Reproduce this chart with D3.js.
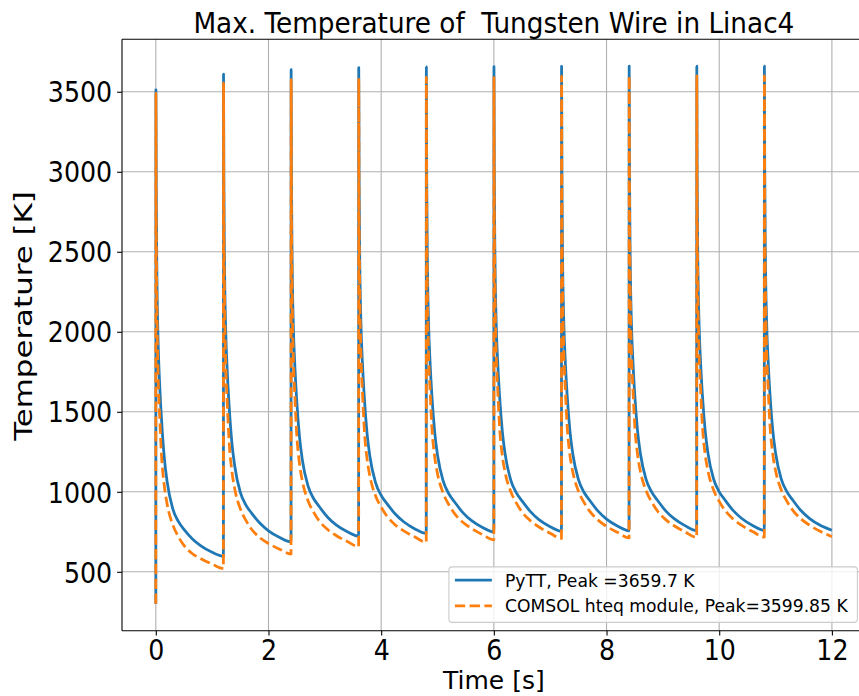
<!DOCTYPE html>
<html>
<head>
<meta charset="utf-8">
<script src="https://cdn.jsdelivr.net/npm/d3@7"></script>
<style>
  html, body { margin: 0; padding: 0; background: #ffffff; }
  svg { display: block; font-family: "DejaVu Sans", sans-serif; }
</style>
</head>
<body>
<svg id="chart" width="859" height="696"></svg>
<script>
// Pulse train: one beam pulse every 1.2 s, ten pulses over 12 s
const cycleStarts = [0, 1.2, 2.4, 3.6, 4.8, 6.0, 7.2, 8.4, 9.6, 10.8];
// time after each pulse start [s] at which the temperatures are sampled
const tAfterPulse = [0.002, 0.008, 0.02, 0.04, 0.07, 0.1, 0.15, 0.2, 0.3, 0.4, 0.5, 0.65, 0.8, 1.0, 1.2];
const initialTemp = 300;

// PyTT maximum wire temperature [K], one row per pulse
const pyttTemps = [
  [3512,   2900, 2350, 1950, 1660, 1460, 1215, 1065, 895,  815, 765, 705, 662, 622, 598],
  [3610,   2953, 2412, 2021, 1740, 1545, 1308, 1163, 997,  917, 867, 803, 756, 714, 687],
  [3638,   2974, 2437, 2049, 1772, 1578, 1345, 1201, 1038, 958, 908, 841, 793, 750, 722],
  [3650,   2985, 2449, 2064, 1788, 1595, 1364, 1221, 1058, 978, 928, 861, 813, 768, 740],
  [3655,   2990, 2455, 2070, 1795, 1603, 1373, 1230, 1068, 988, 938, 870, 821, 777, 748],
  [3657,   2993, 2459, 2074, 1800, 1607, 1378, 1236, 1073, 993, 943, 876, 826, 782, 753],
  [3658.5, 2995, 2461, 2076, 1802, 1610, 1381, 1239, 1077, 997, 947, 879, 829, 785, 756],
  [3659.2, 2996, 2462, 2078, 1804, 1612, 1383, 1241, 1079, 999, 949, 881, 832, 787, 758],
  [3659.5, 2997, 2463, 2079, 1805, 1613, 1384, 1242, 1080, 1000, 950, 882, 833, 788, 759],
  [3659.7, 2997, 2463, 2080, 1806, 1614, 1385, 1243, 1081, 1001, 951, 883, 834, 789, 760]
];

// COMSOL hteq module maximum wire temperature [K], one row per pulse
const comsolTemps = [
  [3491,    2700, 2150, 1740, 1460, 1235, 1040, 925,  795, 720, 665, 613, 582, 548, 521],
  [3555,    2754, 2213, 1812, 1541, 1321, 1130, 1020, 894, 821, 766, 712, 677, 641, 611],
  [3575,    2782, 2246, 1850, 1583, 1365, 1177, 1069, 946, 873, 818, 764, 727, 689, 658],
  [3585,    2798, 2265, 1871, 1608, 1391, 1204, 1097, 975, 904, 849, 793, 756, 717, 685],
  [3591,    2807, 2275, 1883, 1621, 1405, 1219, 1113, 992, 920, 865, 810, 772, 732, 700],
  [3595,    2812, 2281, 1890, 1628, 1413, 1227, 1121, 1001, 929, 874, 819, 780, 741, 708],
  [3597,    2815, 2284, 1893, 1632, 1416, 1231, 1126, 1005, 934, 879, 823, 784, 745, 712],
  [3598.5,  2816, 2286, 1895, 1635, 1419, 1234, 1129, 1008, 937, 882, 826, 788, 748, 715],
  [3599.5,  2818, 2287, 1897, 1636, 1421, 1236, 1131, 1011, 940, 885, 829, 790, 750, 717],
  [3599.85, 2819, 2289, 1898, 1638, 1423, 1238, 1133, 1013, 942, 887, 831, 792, 752, 719]
];

const xTicks = [0, 2, 4, 6, 8, 10, 12];
const yTicks = [500, 1000, 1500, 2000, 2500, 3000, 3500];
const seriesNames = ["PyTT, Peak =3659.7 K", "COMSOL hteq module, Peak=3599.85 K"];
const colors = ["#1f77b4", "#ff7f0e"];

// Flatten the per-pulse rows into one time series
function buildSeries(rows) {
  const pts = [{ t: 0, T: initialTemp }];
  rows.forEach((row, k) => {
    row.forEach((T, i) => pts.push({ t: cycleStarts[k] + tAfterPulse[i], T }));
  });
  return pts;
}
const series = [buildSeries(pyttTemps), buildSeries(comsolTemps)];

// Axes box
const box = { left: 122, right: 865.7, top: 39.3, bottom: 630.7 };

const allT = series.flat().map(d => d.t);
const allV = series.flat().map(d => d.T);
const tExt = d3.extent(allT), vExt = d3.extent(allV);
const tPad = (tExt[1] - tExt[0]) * 0.05, vPad = (vExt[1] - vExt[0]) * 0.05;

const x = d3.scaleLinear().domain([tExt[0] - tPad, tExt[1] + tPad]).range([box.left, box.right]);
const y = d3.scaleLinear().domain([vExt[0] - vPad, vExt[1] + vPad]).range([box.bottom, box.top]);

const svg = d3.select("#chart");

svg.append("defs").append("clipPath").attr("id", "plotClip")
  .append("rect").attr("x", box.left).attr("y", box.top)
  .attr("width", box.right - box.left).attr("height", box.bottom - box.top);

// Grid
const grid = svg.append("g").attr("stroke", "#b0b0b0").attr("stroke-width", 1.1);
grid.selectAll("line.gx").data(xTicks).join("line").attr("class", "gx")
  .attr("x1", d => x(d)).attr("x2", d => x(d)).attr("y1", box.top).attr("y2", box.bottom);
grid.selectAll("line.gy").data(yTicks).join("line").attr("class", "gy")
  .attr("x1", box.left).attr("x2", box.right).attr("y1", d => y(d)).attr("y2", d => y(d));

// Data lines
const line = d3.line().x(d => x(d.t)).y(d => y(d.T)).curve(d3.curveMonotoneX);
const plot = svg.append("g").attr("clip-path", "url(#plotClip)");
plot.append("path").datum(series[0])
  .attr("fill", "none").attr("stroke", colors[0]).attr("stroke-width", 2.78)
  .attr("stroke-linejoin", "round").attr("d", line);
plot.append("path").datum(series[1])
  .attr("fill", "none").attr("stroke", colors[1]).attr("stroke-width", 2.78)
  .attr("stroke-dasharray", "10.3,4.45").attr("stroke-linejoin", "round").attr("d", line);

// Axes (labels are drawn slightly tall, as in the figure's aspect)
const xAxis = d3.axisBottom(x).tickValues(xTicks).tickSize(4.9).tickPadding(4.9).tickFormat(d3.format("d"));
const yAxis = d3.axisLeft(y).tickValues(yTicks).tickSize(4.9).tickPadding(4.9).tickFormat(d3.format("d"));

const gx = svg.append("g").attr("transform", `translate(0,${box.bottom})`).call(xAxis);
const gy = svg.append("g").attr("transform", `translate(${box.left},0)`).call(yAxis);
[gx, gy].forEach(g => {
  g.select(".domain").remove();
  g.selectAll(".tick line").attr("stroke", "#000").attr("stroke-width", 1.1);
  g.selectAll(".tick text").attr("fill", "#000").style("font-size", "25.3px")
    .style("font-family", "DejaVu Sans");
});
gx.selectAll(".tick text").attr("y", null).attr("dy", null)
  .attr("transform", "translate(0,28.8) scale(1,1.1)");
gy.selectAll(".tick text").attr("dy", null)
  .attr("transform", "translate(0,10.2) scale(1,1.15)");

// Spines
const spines = svg.append("g").attr("stroke", "#000").attr("stroke-width", 1.1).attr("fill", "none");
spines.append("line").attr("x1", box.left).attr("x2", box.left).attr("y1", box.top).attr("y2", box.bottom);
spines.append("line").attr("x1", box.left).attr("x2", box.right).attr("y1", box.bottom).attr("y2", box.bottom);
spines.append("line").attr("x1", box.left).attr("x2", box.right).attr("y1", box.top).attr("y2", box.top);
spines.append("line").attr("x1", box.right).attr("x2", box.right).attr("y1", box.top).attr("y2", box.bottom);

// Title and axis labels
const midX = (box.left + box.right) / 2;
svg.append("text").attr("transform", `translate(${midX},33) scale(1,1.08)`)
  .attr("text-anchor", "middle").style("font-size", "26.3px")
  .text("Max. Temperature of \u00a0Tungsten Wire in Linac4");
svg.append("text").attr("x", midX).attr("y", 689.3)
  .attr("text-anchor", "middle").style("font-size", "25px").text("Time [s]");
svg.append("text").attr("transform", `translate(32,316) scale(1,1.235) rotate(-90)`)
  .attr("text-anchor", "middle").style("font-size", "25px").text("Temperature [K]");

// Legend
const lgW = 408.5, lgH = 55.5;
const lgX = box.right - 8.3 - lgW, lgY = box.bottom - 8.3 - lgH;
const lg = svg.append("g");
lg.append("rect").attr("x", lgX).attr("y", lgY).attr("width", lgW).attr("height", lgH)
  .attr("rx", 3.3).attr("fill", "#ffffff").attr("fill-opacity", 0.8)
  .attr("stroke", "#cccccc").attr("stroke-width", 1.1);
seriesNames.forEach((name, i) => {
  const cy = lgY + 13.3 + i * 25.6;
  const h = lg.append("line").attr("x1", lgX + 6).attr("x2", lgX + 43)
    .attr("y1", cy).attr("y2", cy).attr("stroke", colors[i]).attr("stroke-width", 2.78);
  if (i === 1) h.attr("stroke-dasharray", "10.3,4.45");
  lg.append("text").attr("transform", `translate(${lgX + 56},${cy + 6.4}) scale(1,1.05)`)
    .style("font-size", "17.2px").attr("fill", "#000").text(name);
});
</script>
</body>
</html>
